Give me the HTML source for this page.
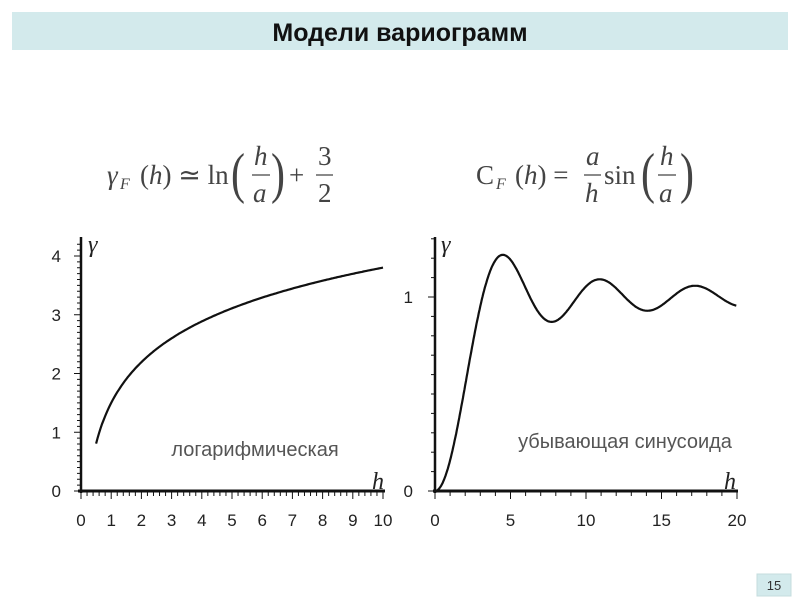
<!DOCTYPE html>
<html><head><meta charset="utf-8"><style>
body{margin:0;background:#fff;width:800px;height:600px;overflow:hidden}
svg{display:block}
</style></head><body>
<svg id="s" width="800" height="600" xmlns="http://www.w3.org/2000/svg" font-family="Liberation Sans, sans-serif">
<rect x="12" y="12" width="776" height="38" fill="#d3eaec"/>
<text x="400" y="41" text-anchor="middle" font-size="25" font-weight="bold" fill="#111">Модели вариограмм</text>
<rect x="757" y="574" width="34" height="22" fill="#d3eaec" stroke="#c4dcde"/>
<text x="774" y="590" text-anchor="middle" font-size="13" fill="#333">15</text>
<g font-family="Liberation Serif, serif" fill="#444" font-size="27">
<text x="107" y="184" font-style="italic">γ</text><text x="120" y="189" font-size="16" font-style="italic">F</text>
<text x="140" y="184">(<tspan font-style="italic">h</tspan>) ≃ ln</text>
<text x="231" y="192" font-size="56" transform="scale(0.75,1)" transform-origin="231 192">(</text>
<text x="254" y="165" font-style="italic">h</text><line x1="252" y1="175" x2="270" y2="175" stroke="#444" stroke-width="1.3"/><text x="253" y="202" font-style="italic">a</text>
<text x="271" y="192" font-size="56" transform="scale(0.75,1)" transform-origin="271 192">)</text>
<text x="289" y="184">+</text>
<text x="318" y="165">3</text><line x1="316" y1="175" x2="333" y2="175" stroke="#444" stroke-width="1.3"/><text x="318" y="202">2</text>
<text x="476" y="184">C</text><text x="496" y="189" font-size="16" font-style="italic">F</text>
<text x="515" y="184">(<tspan font-style="italic">h</tspan>) =</text>
<text x="586" y="165" font-style="italic">a</text><line x1="584" y1="175" x2="601" y2="175" stroke="#444" stroke-width="1.3"/><text x="585" y="202" font-style="italic">h</text>
<text x="604" y="184">sin</text>
<text x="641" y="192" font-size="56" transform="scale(0.75,1)" transform-origin="641 192">(</text>
<text x="660" y="165" font-style="italic">h</text><line x1="658" y1="175" x2="676" y2="175" stroke="#444" stroke-width="1.3"/><text x="659" y="202" font-style="italic">a</text>
<text x="680" y="192" font-size="56" transform="scale(0.75,1)" transform-origin="680 192">)</text>
</g>
<g id="g"></g>
</svg>
<script>
var g=document.getElementById('g'),o='';
function L(a,b,c,d,w){o+='<line x1="'+a+'" y1="'+b+'" x2="'+c+'" y2="'+d+'" stroke="#111" stroke-width="'+w+'"/>';}
function T(x,y,t,anc,sz,st){o+='<text x="'+x+'" y="'+y+'" text-anchor="'+(anc||'middle')+'" font-size="'+(sz||17)+'" fill="#222" '+(st||'')+'>'+t+'</text>';}
var x0=81,xs=30.2,y0=491,ys=58.75;
L(x0,237,x0,493,2.5);L(78,491,385,491,3);
for(var i=0;i<=50;i++){var x=x0+i*xs/5;L(x,491,x,i%5?496:499,1);}
for(var i=0;i<=42;i++){var y=y0-i*ys/10;L(x0,y,i%10?77:74,y,1);}
for(var i=0;i<=10;i++)T(x0+i*xs,526,i);
for(var i=0;i<=4;i++)T(61,y0-i*ys+6,i,'end');
var p='';for(var h=0.5;h<=10.001;h+=0.05){p+=(p?'L':'M')+(x0+h*xs).toFixed(1)+','+(y0-ys*(Math.log(h)+1.5)).toFixed(1);}
o+='<path d="'+p+'" fill="none" stroke="#111" stroke-width="2.2"/>';
T(88,252,'γ','start',24,'font-family="Liberation Serif, serif" font-style="italic"');
T(372,489,'h','start',24,'font-family="Liberation Serif, serif" font-style="italic" fill="#555"');
T(255,456,'логарифмическая','middle',20,'style="fill:#555"');
var X0=435,XS=15.1,Y0=491,YS=194;
L(X0,237,X0,493,2.5);L(433,491,738,491,3);
for(var i=0;i<=20;i++){var x=X0+i*XS;L(x,491,x,i%5?496:499,1);}
for(var i=0;i<=13;i++){var y=Y0-i*YS/10;L(X0,y,i%10?431:428,y,1);}
for(var i=0;i<=4;i++)T(X0+i*5*XS,526,i*5);
T(413,497,'0','end');T(413,303,'1','end');
p='';for(var h=0.001;h<=20.001;h+=0.05){p+=(p?'L':'M')+(X0+h*XS).toFixed(1)+','+(Y0-YS*(1-Math.sin(h)/h)).toFixed(1);}
o+='<path d="'+p+'" fill="none" stroke="#111" stroke-width="2.2"/>';
T(441,252,'γ','start',24,'font-family="Liberation Serif, serif" font-style="italic"');
T(724,489,'h','start',24,'font-family="Liberation Serif, serif" font-style="italic" fill="#555"');
T(625,448,'убывающая синусоида','middle',20,'style="fill:#555"');
g.innerHTML=o;
</script>
</body></html>
